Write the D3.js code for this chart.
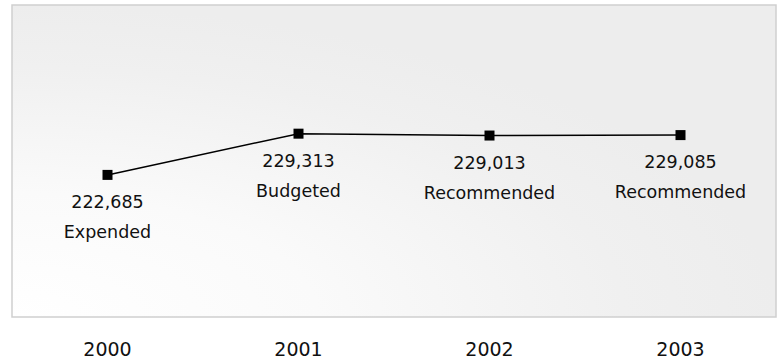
<!DOCTYPE html>
<html>
<head>
<meta charset="utf-8">
<script src="https://cdn.jsdelivr.net/npm/d3@7"></script>
<style>
  html, body { margin: 0; padding: 0; background: #ffffff; }
  svg { display: block; }
  text { font-family: "DejaVu Sans", sans-serif; fill: #111; }
</style>
</head>
<body>
<div id="chart"></div>
<script>
// ---- data ----
const years = ["2000", "2001", "2002", "2003"];
const values = [222685, 229313, 229013, 229085];
const statusLabels = ["Expended", "Budgeted", "Recommended", "Recommended"];
const yDomain = [200000, 250000];

const W = 777, H = 360;
const frame = { left: 12, right: 776, top: 5, bottom: 317 };

const svg = d3.select("#chart").append("svg")
  .attr("width", W).attr("height", H);

const defs = svg.append("defs");
const grad = defs.append("radialGradient")
  .attr("id", "bg")
  .attr("cx", 0).attr("cy", 1)
  .attr("fx", 0).attr("fy", 1)
  .attr("r", 1);
grad.append("stop").attr("offset", "0").attr("stop-color", "#ffffff");
grad.append("stop").attr("offset", "0.4").attr("stop-color", "#fafafa");
grad.append("stop").attr("offset", "0.8").attr("stop-color", "#f0f0f0");
grad.append("stop").attr("offset", "1").attr("stop-color", "#ededed");

svg.append("rect")
  .attr("x", frame.left).attr("y", frame.top)
  .attr("width", frame.right - frame.left)
  .attr("height", frame.bottom - frame.top)
  .attr("fill", "url(#bg)")
  .attr("stroke", "#cfcfcf")
  .attr("stroke-width", 1.5);

const x = d3.scaleBand().domain(years)
  .range([frame.left, frame.right]).padding(0);
const y = d3.scaleLinear().domain(yDomain)
  .range([frame.bottom - 1, frame.top]);

const data = years.map((yr, i) => ({ year: yr, value: values[i], label: statusLabels[i] }));
const cx = d => x(d.year) + x.bandwidth() / 2;

// x axis (labels only)
const xAxis = d3.axisBottom(x).tickSize(0).tickPadding(0);
const gx = svg.append("g")
  .attr("transform", `translate(0, ${frame.bottom})`)
  .call(xAxis);
gx.select(".domain").remove();
gx.selectAll("text")
  .attr("y", 39)
  .attr("dy", 0)
  .style("font-family", "\"DejaVu Sans\", sans-serif")
  .style("font-size", "19px")
  .attr("fill", "#111");

// line
const line = d3.line().x(cx).y(d => y(d.value));
svg.append("path").datum(data)
  .attr("d", line)
  .attr("fill", "none")
  .attr("stroke", "#000")
  .attr("stroke-width", 1.5);

// markers
const ms = 10;
svg.selectAll("rect.marker").data(data).enter().append("rect")
  .attr("class", "marker")
  .attr("x", d => cx(d) - ms / 2)
  .attr("y", d => y(d.value) - ms / 2)
  .attr("width", ms).attr("height", ms)
  .attr("fill", "#000");

// value labels
const fmt = d3.format(",");
svg.selectAll("text.val").data(data).enter().append("text")
  .attr("class", "val")
  .attr("x", cx)
  .attr("y", d => y(d.value) + 33)
  .attr("text-anchor", "middle")
  .style("font-size", "17.5px")
  .text(d => fmt(d.value));

svg.selectAll("text.lab").data(data).enter().append("text")
  .attr("class", "lab")
  .attr("x", cx)
  .attr("y", d => y(d.value) + 63)
  .attr("text-anchor", "middle")
  .style("font-size", "17.5px")
  .text(d => d.label);
</script>
</body>
</html>
